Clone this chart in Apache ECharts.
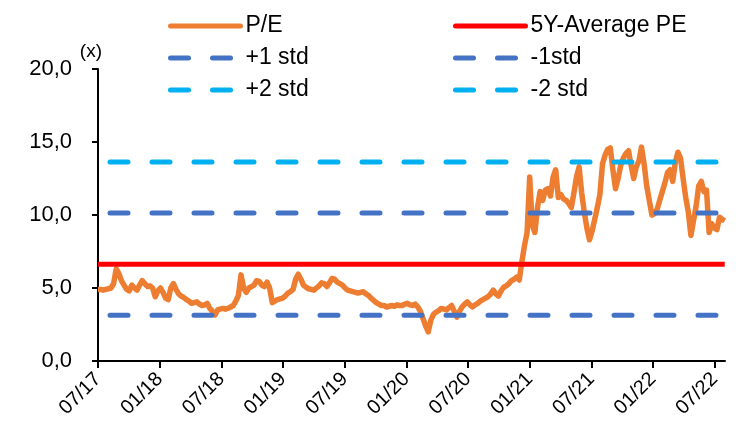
<!DOCTYPE html>
<html>
<head>
<meta charset="utf-8">
<script src="https://cdn.jsdelivr.net/npm/echarts@6/dist/echarts.min.js"></script>
<style>
  html, body { margin: 0; padding: 0; background: #fff; }
  #chart { width: 748px; height: 428px; }
</style>
</head>
<body>
<div id="chart"></div>
<script>
// x axis: months since 07/2017, ticks every 6 months
const tickMonths = [0, 6, 12, 18, 24, 30, 36, 42, 48, 54, 60]
const tickLabels = ['07/17', '01/18', '07/18', '01/19', '07/19', '01/20', '07/20', '01/21', '07/21', '01/22', '07/22']

// P/E readings, roughly weekly from 07/2017
const stepMonths = 0.253
const pe = [
  4.9, 4.9, 4.85, 4.9, 4.95, 5.0, 5.3, 6.3, 6.0, 5.5,
  5.2, 4.9, 4.8, 5.2, 5.0, 4.85, 5.2, 5.5, 5.3, 5.1,
  5.15, 5.0, 4.4, 4.8, 5.0, 4.7, 4.3, 4.2, 5.0, 5.3,
  4.9, 4.6, 4.45, 4.35, 4.2, 4.1, 3.95, 4.0, 4.05, 3.9,
  3.8, 3.85, 3.95, 3.6, 3.4, 3.15, 3.5, 3.55, 3.6, 3.55,
  3.6, 3.7, 3.8, 4.1, 4.5, 5.9, 5.0, 4.7, 5.0, 5.1,
  5.2, 5.5, 5.45, 5.2, 5.1, 5.4, 5.0, 4.0, 4.1, 4.2,
  4.25, 4.3, 4.45, 4.65, 4.75, 4.9, 5.6, 5.95, 5.6, 5.2,
  5.05, 4.95, 4.9, 4.85, 5.0, 5.15, 5.35, 5.3, 5.1, 5.35,
  5.65, 5.6, 5.4, 5.3, 5.2, 5.0, 4.85, 4.8, 4.75, 4.7,
  4.65, 4.7, 4.75, 4.6, 4.5, 4.3, 4.15, 4.0, 3.9, 3.8,
  3.8, 3.7, 3.75, 3.8, 3.75, 3.85, 3.8, 3.8, 3.9, 3.95,
  3.85, 3.8, 3.9, 3.7, 3.4, 2.9, 2.4, 2.0, 2.8, 3.2,
  3.35, 3.45, 3.6, 3.55, 3.5, 3.65, 3.8, 3.4, 3.0, 3.4,
  3.7, 3.9, 4.05, 3.85, 3.7, 3.85, 3.95, 4.1, 4.2, 4.3,
  4.4, 4.6, 4.85, 4.6, 4.45, 4.8, 5.05, 5.15, 5.3, 5.5,
  5.6, 5.75, 5.55, 6.8, 7.9, 8.8, 12.6, 9.3, 8.8, 10.5,
  11.6, 11.0, 11.7, 11.8, 11.3, 12.6, 13.1, 11.2, 11.4, 11.1,
  11.0, 10.8, 10.5, 11.5, 12.6, 13.3, 11.5, 10.2, 9.1, 8.3,
  8.9, 9.7, 10.5, 11.4, 13.5, 14.1, 14.5, 14.6, 13.1, 11.8,
  12.5, 13.4, 13.9, 14.2, 14.4, 13.4, 12.5, 13.3, 13.7, 14.65,
  13.5, 12.0, 11.0, 10.0, 10.1, 10.4, 11.0, 11.6, 12.2, 12.9,
  13.1, 12.3, 13.6, 14.3, 13.9, 12.5, 11.2, 10.2, 8.6, 9.6,
  10.6, 12.0, 12.3, 11.6, 11.7, 8.8, 9.4, 9.1, 9.0, 9.85,
  9.7, 9.6
]

// reference levels
const avgPE = 6.63
const plus1 = 10.13
const minus1 = 3.13
const plus2 = 13.63
const minus2 = -0.37

const fmtComma = (v) => v.toFixed(1).replace('.', ',')
const FONT = 'Liberation Sans'

const peData = pe.map((v, i) => [i * stepMonths, v])
const lastMonth = (pe.length - 1) * stepMonths
const flat = (v) => [[0, v], [lastMonth, v]]

const dashed = (color) => ({
  width: 5,
  color: color,
  type: [18, 24],
  dashOffset: 30,
  cap: 'round',
})

const legendBase = {
  orient: 'vertical',
  top: 9,
  itemWidth: 70,
  itemHeight: 14,
  itemGap: 8,
  selectedMode: false,
  itemStyle: {opacity: 0},
  lineStyle: {width: 5, dashOffset: 0, cap: 'round'},
  textStyle: {fontFamily: FONT, fontSize: 23, color: '#000', lineHeight: 24},
}

const chart = echarts.init(document.getElementById('chart'), null, {renderer: 'canvas'})

chart.setOption({
  animation: false,
  backgroundColor: '#fff',
  textStyle: {fontFamily: FONT},
  grid: {left: 98, right: 23, top: 69, bottom: 67},
  legend: [
    Object.assign({}, legendBase, {data: ['P/E', '+1 std', '+2 std'], left: 163}),
    Object.assign({}, legendBase, {data: ['5Y-Average PE', '-1std', '-2 std'], left: 448}),
  ],
  xAxis: {
    type: 'value',
    min: 0,
    max: 61,
    splitLine: {show: false},
    axisLine: {lineStyle: {color: '#000', width: 2}},
    axisTick: {
      customValues: tickMonths,
      length: 7,
      lineStyle: {color: '#000', width: 2},
    },
    axisLabel: {
      customValues: tickMonths,
      rotate: 45,
      margin: 15,
      fontFamily: FONT,
      fontSize: 20,
      color: '#000',
      formatter: (v) => tickLabels[tickMonths.indexOf(Math.round(v))] || '',
    },
  },
  yAxis: {
    type: 'value',
    min: 0,
    max: 20,
    interval: 5,
    name: '(x)',
    nameLocation: 'end',
    nameGap: 8,
    nameTextStyle: {fontFamily: FONT, fontSize: 19, color: '#000', align: 'right', padding: [0, -4, 0, 0]},
    splitLine: {show: false},
    axisLine: {show: true, lineStyle: {color: '#000', width: 2}},
    axisTick: {show: true, length: 6, lineStyle: {color: '#000', width: 2}},
    axisLabel: {
      margin: 26,
      fontFamily: FONT,
      fontSize: 22,
      color: '#000',
      formatter: fmtComma,
    },
  },
  series: [
    {
      name: 'P/E',
      type: 'line',
      data: peData,
      symbol: 'none',
      color: '#ED7D31',
      lineStyle: {width: 5.5, color: '#ED7D31', join: 'round'},
    },
    {
      name: '5Y-Average PE',
      type: 'line',
      data: flat(avgPE),
      symbol: 'none',
      color: '#FF0000',
      lineStyle: {width: 5, color: '#FF0000'},
    },
    {
      name: '+1 std',
      type: 'line',
      data: flat(plus1),
      symbol: 'none',
      color: '#4472C4',
      lineStyle: dashed('#4472C4'),
    },
    {
      name: '-1std',
      type: 'line',
      data: flat(minus1),
      symbol: 'none',
      color: '#4472C4',
      lineStyle: dashed('#4472C4'),
    },
    {
      name: '+2 std',
      type: 'line',
      data: flat(plus2),
      symbol: 'none',
      color: '#00B0F0',
      lineStyle: dashed('#00B0F0'),
    },
    {
      name: '-2 std',
      type: 'line',
      data: flat(minus2),
      symbol: 'none',
      color: '#00B0F0',
      lineStyle: dashed('#00B0F0'),
    },
  ],
})
</script>
</body>
</html>
